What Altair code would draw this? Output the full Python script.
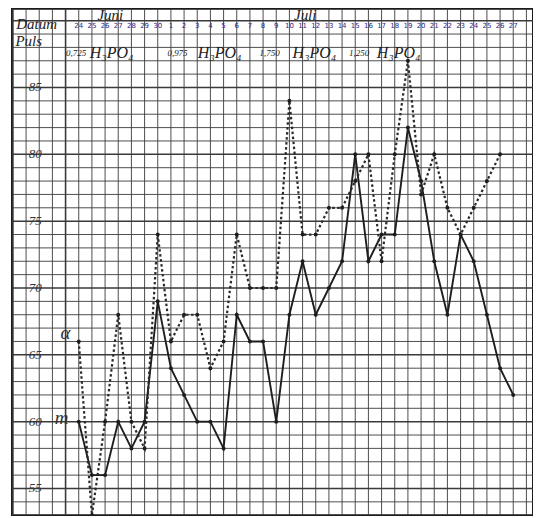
import altair as alt
import pandas as pd

# ---- data ----
juni_days = ["24", "25", "26", "27", "28", "29", "30"]
juli_days = [str(d) for d in range(1, 28)]
dates = juni_days + juli_days

puls_m = [60, 56, 56, 60, 58, 60, 69,
          64, 62, 60, 60, 58, 68, 66, 66, 60, 68, 72, 68, 70, 72, 80, 72, 74, 74,
          82, 78, 72, 68, 74, 72, 68, 64, 62]
puls_a = [66, 53, 60, 68, 60, 58, 74,
          66, 68, 68, 64, 66, 74, 70, 70, 70, 84, 74, 74, 76, 76, 78, 80, 72, 80,
          87, 77, 80, 76, 74, 76, 78, 80, None]

y_ticks = [55, 60, 65, 70, 75, 80, 85]
doses = ["0,725", "0,975", "1,750", "1,250"]
compound = "H₃PO₄"

# ---- tables ----
df = pd.DataFrame({"i": list(range(len(dates))), "date": dates,
                   "m": puls_m, "a": puls_a})

X_DOM = [-5.07, 34.5]
Y_DOM = [53.0, 90.9]
W = (X_DOM[1] - X_DOM[0]) * 13.2
H = (Y_DOM[1] - Y_DOM[0]) * 13.4

xs = alt.Scale(domain=X_DOM, nice=False, zero=False)
ys = alt.Scale(domain=Y_DOM, nice=False, zero=False)
INK = "#1e1e1e"

vgrid = pd.DataFrame({"i": list(range(-5, 35))})
vgrid["w"] = [1.6 if k in (-5, -1) else 0.9 for k in vgrid["i"]]
hgrid = pd.DataFrame({"v": list(range(54, 91))})
hgrid["w"] = [1.5 if v % 5 == 0 else 0.9 for v in hgrid["v"]]

vlines = alt.Chart(vgrid).mark_rule(color="#3a3a3a").encode(
    x=alt.X("i:Q", scale=xs, axis=None),
    strokeWidth=alt.StrokeWidth("w:Q", scale=None, legend=None))
hlines = alt.Chart(hgrid).mark_rule(color="#3a3a3a").encode(
    y=alt.Y("v:Q", scale=ys, axis=None),
    strokeWidth=alt.StrokeWidth("w:Q", scale=None, legend=None))

ylab = alt.Chart(pd.DataFrame({"v": y_ticks, "i": [-3.3] * len(y_ticks)})).mark_text(
    font="Liberation Serif", fontStyle="italic", fontSize=13, color="#333",
    align="center", baseline="middle").encode(
    x=alt.X("i:Q", scale=xs), y=alt.Y("v:Q", scale=ys), text="v:N")

line_m = alt.Chart(df).mark_line(color=INK, strokeWidth=1.9).encode(
    x=alt.X("i:Q", scale=xs), y=alt.Y("m:Q", scale=ys))
pts_m = alt.Chart(df).mark_circle(color=INK, size=16, opacity=1).encode(
    x=alt.X("i:Q", scale=xs), y=alt.Y("m:Q", scale=ys))
dfa = df.dropna(subset=["a"])
line_a = alt.Chart(dfa).mark_line(color="#2a2a2a", strokeWidth=2.2,
                                  strokeDash=[2.5, 2.5]).encode(
    x=alt.X("i:Q", scale=xs), y=alt.Y("a:Q", scale=ys))
pts_a = alt.Chart(dfa).mark_circle(color=INK, size=16, opacity=1).encode(
    x=alt.X("i:Q", scale=xs), y=alt.Y("a:Q", scale=ys))

date_txt = alt.Chart(pd.DataFrame({"i": list(range(len(dates))), "date": dates,
                                   "v": [89.6] * len(dates)})).mark_text(
    font="DejaVu Sans", fontSize=7, color="#2a2a8a", baseline="middle").encode(
    x=alt.X("i:Q", scale=xs), y=alt.Y("v:Q", scale=ys), text="date:N")

hdr = pd.DataFrame({
    "t": ["Juni", "Juli", "Datum", "Puls"],
    "i": [2.4, 17.2, -3.2, -3.8],
    "v": [90.45, 90.45, 89.75, 88.45],
})
hdr_txt = alt.Chart(hdr).mark_text(font="Liberation Serif", fontStyle="italic",
                                   fontSize=15, color="#222", baseline="middle").encode(
    x=alt.X("i:Q", scale=xs), y=alt.Y("v:Q", scale=ys), text="t:N")

dose_df = pd.DataFrame({"t": doses, "i": [-0.2, 7.5, 14.5, 21.3],
                        "v": [87.55] * 4})
dose_txt = alt.Chart(dose_df).mark_text(font="Liberation Serif", fontStyle="italic",
                                        fontSize=9, color="#222", baseline="middle").encode(
    x=alt.X("i:Q", scale=xs), y=alt.Y("v:Q", scale=ys), text="t:N")
comp_df = pd.DataFrame({"t": [compound] * 4, "i": [2.5, 10.7, 17.9, 24.3],
                        "v": [87.6] * 4})
comp_txt = alt.Chart(comp_df).mark_text(font="Liberation Serif", fontStyle="italic",
                                        fontSize=16, color="#222", baseline="middle").encode(
    x=alt.X("i:Q", scale=xs), y=alt.Y("v:Q", scale=ys), text="t:N")

series_lab = pd.DataFrame({"t": ["α", "m"], "i": [-1.0, -1.3], "v": [66.6, 60.3]})
ser_txt = alt.Chart(series_lab).mark_text(font="Liberation Serif", fontStyle="italic",
                                          fontSize=19, color="#333", baseline="middle").encode(
    x=alt.X("i:Q", scale=xs), y=alt.Y("v:Q", scale=ys), text="t:N")

chart = alt.layer(vlines, hlines, ylab, line_m, line_a, pts_m, pts_a,
                  date_txt, hdr_txt, dose_txt, comp_txt, ser_txt).properties(
    width=W, height=H, background="white",
    padding={"left": 4, "top": 0, "right": 0, "bottom": 0},
    autosize=alt.AutoSizeParams(type="none"),
).configure_view(stroke="#1a1a1a", strokeWidth=2)

chart.save("out.html", embed_options={"renderer": "svg", "actions": False})
